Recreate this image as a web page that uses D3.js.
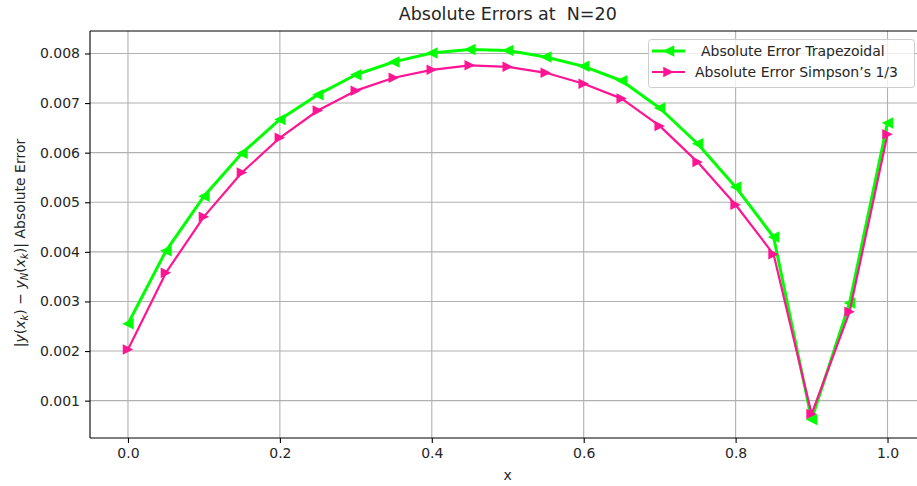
<!DOCTYPE html>
<html><head><meta charset="utf-8">
<script src="https://cdn.jsdelivr.net/npm/d3@7"></script>
<style>body{margin:0;background:#fff}text{font-family:"DejaVu Sans",sans-serif;fill:#262626;white-space:pre}</style>
</head><body><svg id="c" width="917" height="486"></svg>
<script>
const xs = [0,0.05,0.1,0.15,0.2,0.25,0.3,0.35,0.4,0.45,0.5,0.55,0.6,0.65,0.7,0.75,0.8,0.85,0.9,0.95,1.0];
const trapErr = [0.00255,0.00402,0.00512,0.00599,0.00667,0.00717,0.00757,0.00783,0.00801,0.00808,0.00806,0.00793,0.00774,0.00745,0.00690,0.00618,0.00531,0.00430,0.00062,0.00297,0.00660];
const simpErr = [0.00203,0.00358,0.00471,0.00560,0.00630,0.00685,0.00725,0.00751,0.00767,0.00776,0.00773,0.00761,0.00739,0.00709,0.00654,0.00581,0.00495,0.00395,0.00073,0.00279,0.00637];
const xTicks = [0,0.2,0.4,0.6,0.8,1.0];
const yTicks = [0.001,0.002,0.003,0.004,0.005,0.006,0.007,0.008];
const title = "Absolute Errors at  N=20";
const legendLabels = ["Absolute Error Trapezoidal","Absolute Error Simpson\u2019s 1/3"];

const svg = d3.select("#c");
const L=90, R=925.5, T=31, B=438;
const allY = trapErr.concat(simpErr);
const ymin=d3.min(allY), ymax=d3.max(allY), pad=(ymax-ymin)*0.05;
const x = d3.scaleLinear().domain([-0.05,1.05]).range([L,R]);
const y = d3.scaleLinear().domain([ymin-pad,ymax+pad]).range([B,T]);

// grid
const g = svg.append("g");
g.selectAll(".gx").data(xTicks).join("line").attr("x1",d=>x(d)).attr("x2",d=>x(d)).attr("y1",T).attr("y2",B).attr("stroke","#b0b0b0").attr("stroke-width",1.1);
g.selectAll(".gy").data(yTicks).join("line").attr("y1",d=>y(d)).attr("y2",d=>y(d)).attr("x1",L).attr("x2",R).attr("stroke","#b0b0b0").attr("stroke-width",1.1);

// axes
const xa = svg.append("g").attr("transform",`translate(0,${B})`).call(d3.axisBottom(x).tickValues(xTicks).tickFormat(d3.format(".1f")).tickSizeOuter(0).tickSize(5).tickPadding(5));
const ya = svg.append("g").attr("transform",`translate(${L},0)`).call(d3.axisLeft(y).tickValues(yTicks).tickFormat(d3.format(".3f")).tickSizeOuter(0).tickSize(5).tickPadding(5));
[xa,ya].forEach(a=>{a.select(".domain").remove();a.selectAll("line").attr("stroke","#000").attr("stroke-width",1.1);a.selectAll("text").attr("font-size",14).attr("font-family","DejaVu Sans").attr("fill","#262626");});
svg.append("line").attr("x1",L).attr("x2",L).attr("y1",T).attr("y2",B).attr("stroke","#000").attr("stroke-width",1.1);
svg.append("line").attr("x1",L).attr("x2",R).attr("y1",B).attr("y2",B).attr("stroke","#000").attr("stroke-width",1.1);
svg.append("line").attr("x1",L).attr("x2",R).attr("y1",T).attr("y2",T).attr("stroke","#000").attr("stroke-width",1.1);

// series
const tri = (dir,s)=> dir<0 ? `M${-s/2},0L${s/2},${-s/2}L${s/2},${s/2}Z` : `M${s/2},0L${-s/2},${-s/2}L${-s/2},${s/2}Z`;
const series = [
  {vals:trapErr,color:"#00ff00",w:3,dir:-1,ms:11.5},
  {vals:simpErr,color:"#ff1493",w:2.2,dir:1,ms:10.5}
];
const line = d3.line().x((d,i)=>x(xs[i])).y(d=>y(d));
series.forEach(s=>{
  const sg = svg.append("g");
  sg.append("path").datum(s.vals).attr("d",line).attr("fill","none").attr("stroke",s.color).attr("stroke-width",s.w).attr("stroke-linejoin","round");
  sg.selectAll("path.m").data(s.vals).join("path").attr("class","m").attr("d",tri(s.dir,s.ms)).attr("transform",(d,i)=>`translate(${x(xs[i])},${y(d)})`).attr("fill",s.color);
});

// title & labels
svg.append("text").attr("x",(L+R)/2).attr("y",20).attr("text-anchor","middle").attr("font-size",17.5).attr("xml:space","preserve").text(title);
svg.append("text").attr("x",(L+R)/2).attr("y",480).attr("text-anchor","middle").attr("font-size",14).text("x");
const yl = svg.append("text").attr("transform","translate(25,243) rotate(-90)").attr("text-anchor","middle").attr("font-size",14);
const parts = [["|",0],["y",1],["(",0],["x",1],["k",2],[")",0],[" \u2212 ",0],["y",1],["N",2],["(",0],["x",1],["k",2],[")|",0],[" Absolute Error",0]];
let prevSub=false;
parts.forEach(([t,k])=>{
  const ts = yl.append("tspan").text(t);
  if(k>=1) ts.attr("font-style","italic");
  if(k===2){ts.attr("font-size",10).attr("dy",3);prevSub=true;}
  else if(prevSub){ts.attr("dy",-3);prevSub=false;}
});

// legend
const lg = svg.append("g");
lg.append("rect").attr("x",648.5).attr("y",39.5).attr("width",266).attr("height",48).attr("rx",3).attr("fill","#fff").attr("fill-opacity",0.8).attr("stroke","#cccccc");
const rowsY=[51,72], textX=[701,695];
series.forEach((s,i)=>{
  lg.append("line").attr("x1",652).attr("x2",685).attr("y1",rowsY[i]).attr("y2",rowsY[i]).attr("stroke",s.color).attr("stroke-width",s.w);
  lg.append("path").attr("d",tri(s.dir,s.ms)).attr("transform",`translate(668.5,${rowsY[i]})`).attr("fill",s.color);
  lg.append("text").attr("x",textX[i]).attr("y",rowsY[i]+5).attr("font-size",14).text(legendLabels[i]);
});
</script></body></html>
